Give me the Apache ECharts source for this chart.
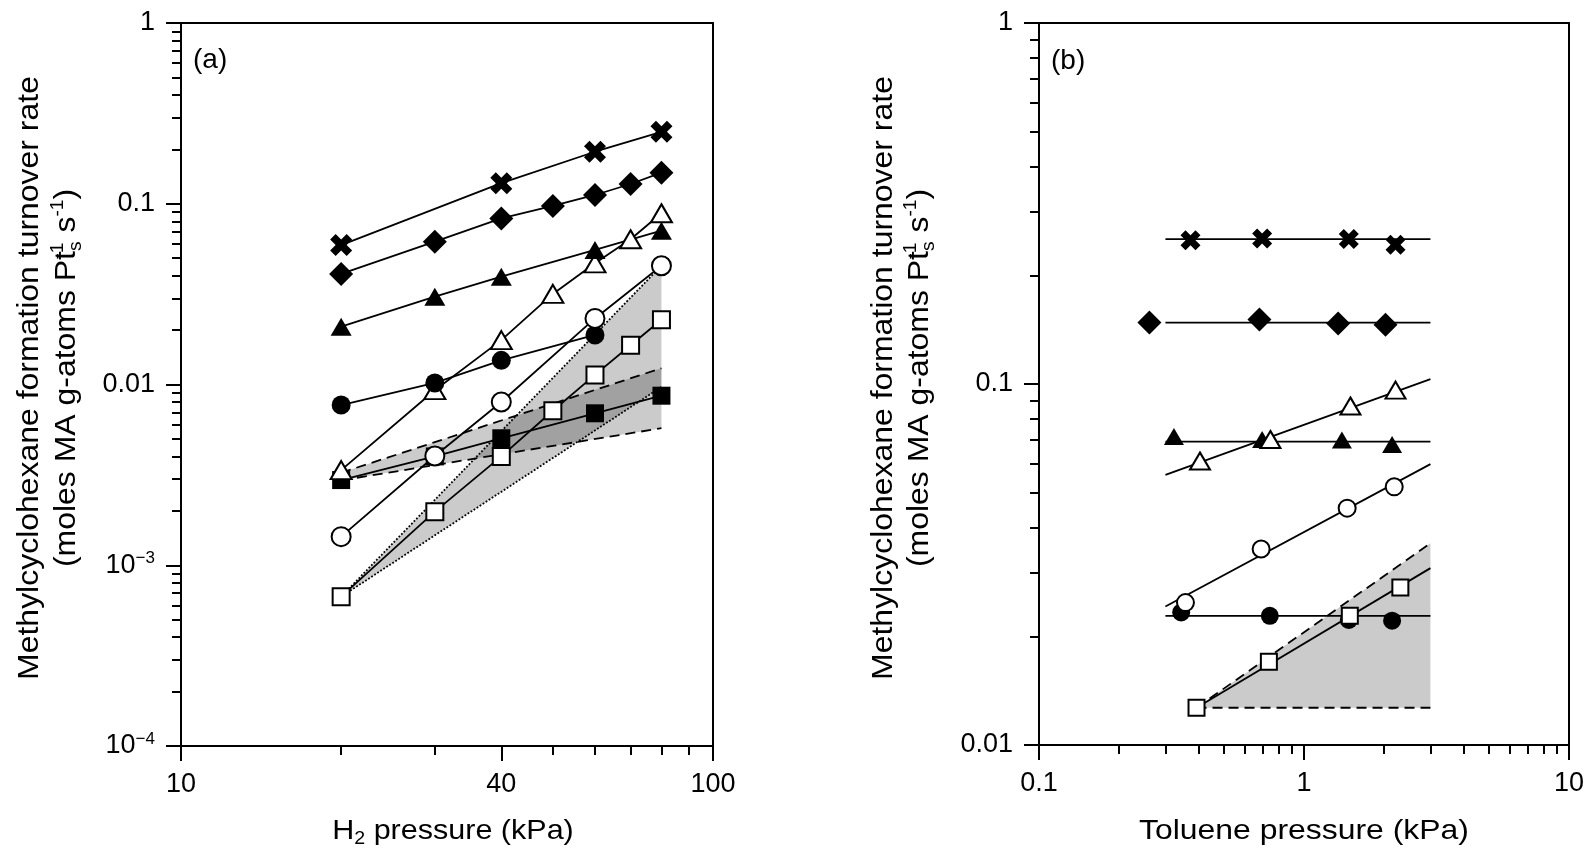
<!DOCTYPE html>
<html>
<head>
<meta charset="utf-8">
<script src="https://cdn.jsdelivr.net/npm/echarts@6.0.0/dist/echarts.min.js"></script>
<style>
  html, body { margin: 0; padding: 0; background: #ffffff; }
  #chart { width: 1589px; height: 849px; }
</style>
</head>
<body>
<div id="chart"></div>
<script>
// ---------- Panel (a): turnover rate vs H2 pressure (kPa) ----------
const aCross      = [[20, 0.0591], [40, 0.130], [60, 0.194], [80, 0.250]];
const aDiamond    = [[20, 0.0409], [30, 0.0617], [40, 0.083], [50, 0.0972], [60, 0.1118], [70, 0.1286], [80, 0.1485]];
const aTriFilled  = [[20, 0.0209], [30, 0.0306], [40, 0.0395], [60, 0.0555], [80, 0.0710]];
const aTriOpen    = [[20, 0.00336], [30, 0.0093], [40, 0.0176], [50, 0.0317], [60, 0.0468], [70, 0.0636], [80, 0.0886]];
const aCircFilled = [[20, 0.0077], [30, 0.0102], [40, 0.0136], [60, 0.0188]];
const aCircOpen   = [[20, 0.00144], [30, 0.00402], [40, 0.0080], [60, 0.0232], [80, 0.0454]];
const aSqFilled   = [[20, 0.00296], [30, 0.0040], [40, 0.00504], [60, 0.00693], [80, 0.00867]];
const aSqOpen     = [[20, 0.00067], [30, 0.00198], [40, 0.0040], [50, 0.00716], [60, 0.0113], [70, 0.0165], [80, 0.0228]];

// shaded ranges in panel (a)
const aDashBandX     = [20, 80];
const aDashBandUpper = [0.00325, 0.0123];
const aDashBandLower = [0.00295, 0.00573];
const aDotBandX      = [20, 80];
const aDotBandUpper  = [0.00067, 0.0454];
const aDotBandLower  = [0.00067, 0.0097];

// ---------- Panel (b): turnover rate vs toluene pressure (kPa) ----------
const bCross      = [[0.373, 0.250], [0.695, 0.253], [1.476, 0.252], [2.215, 0.243]];
const bDiamond    = [[0.261, 0.148], [0.679, 0.151], [1.345, 0.147], [2.03, 0.146]];
const bTriFilled  = [[0.323, 0.0716], [0.695, 0.0702], [1.39, 0.0700], [2.15, 0.0680]];
const bTriOpen    = [[0.405, 0.0612], [0.747, 0.0702], [1.497, 0.0869], [2.215, 0.0962]];
const bCircOpen   = [[0.357, 0.0248], [0.689, 0.0349], [1.455, 0.0453], [2.19, 0.0519]];
const bCircFilled = [[0.344, 0.0233], [0.743, 0.0228], [1.476, 0.0222], [2.15, 0.0221]];
const bSqOpen     = [[0.393, 0.01268], [0.737, 0.0170], [1.489, 0.0228], [2.31, 0.0273]];

// fitted lines in panel (b)
const bFitX          = [0.3, 3];
const bFitCross      = [0.252, 0.252];
const bFitDiamond    = [0.148, 0.148];
const bFitTriFilled  = [0.0692, 0.0692];
const bFitTriOpen    = [0.056, 0.1032];
const bFitCircOpen   = [0.0242, 0.060];
const bFitCircFilled = [0.0228, 0.0228];
const bFitSqX        = [0.393, 3];
const bFitSqOpen     = [0.01268, 0.0309];

// shaded range in panel (b)
const bBandX     = [0.393, 3];
const bBandUpper = [0.01268, 0.0362];
const bBandLower = [0.01268, 0.01268];

// ---------- axis ticks and labels ----------
const aXMajor  = [10, 40, 100];
const aXLabels = ['10', '40', '100'];
const aXMinor  = [20, 30, 50, 60, 70, 80, 90];
const aYMajor  = [1e-4, 1e-3, 1e-2, 1e-1, 1];
const aYLabels = ['10{sup|\u22124}', '10{sup|\u22123}', '0.01', '0.1', '1'];
const bXMajor  = [0.1, 1, 10];
const bXLabels = ['0.1', '1', '10'];
const bYMajor  = [0.01, 0.1, 1];
const bYLabels = ['0.01', '0.1', '1'];

// axis titles
const xTitleA = 'H{sb|2} pressure (kPa)';
const xTitleB = 'Toluene pressure (kPa)';
const yTitle1 = 'Methylcyclohexane formation turnover rate';
const yTitle2 = '(moles MA g-atoms Pt{sp0|-1}{sb|s} s{sp|-1})';

// 2..9 multiples of every decade between 10^lo and 10^hi
function minorSteps(lo, hi) {
  const out = [];
  for (let d = lo; d < hi; d++) {
    for (let k = 2; k <= 9; k++) out.push(+(k * Math.pow(10, d)).toPrecision(6));
  }
  return out;
}

const FONT = '"Liberation Sans", Arial, Helvetica, sans-serif';
const INK = '#000000';
const AXIS_W = 2;
const LINE_W = 1.8;

function labelFor(majors, labels) {
  return function (v) {
    for (let i = 0; i < majors.length; i++) {
      if (Math.abs(Math.log10(v) - Math.log10(majors[i])) < 1e-6) return labels[i];
    }
    return '';
  };
}

const supRich = { sup: { fontSize: 17, verticalAlign: 'top', lineHeight: 16, fontFamily: FONT, color: INK } };

function majorAxis(dim, grid, min, max, ticks, labels) {
  return {
    type: 'log', logBase: 10, gridIndex: grid, min: min, max: max,
    position: dim === 'x' ? 'bottom' : 'left',
    axisLine: { show: true, onZero: false, lineStyle: { color: INK, width: AXIS_W } },
    axisTick: { show: true, inside: false, length: 15, customValues: ticks, lineStyle: { color: INK, width: AXIS_W } },
    axisLabel: {
      show: true, customValues: ticks, formatter: labelFor(ticks, labels),
      fontSize: 27, fontFamily: FONT, color: INK, margin: dim === 'x' ? 24 : 26,
      lineHeight: 30, rich: supRich
    },
    splitLine: { show: false }, minorTick: { show: false }, minorSplitLine: { show: false }
  };
}

function minorAxis(dim, grid, min, max, ticks) {
  return {
    type: 'log', logBase: 10, gridIndex: grid, min: min, max: max,
    position: dim === 'x' ? 'bottom' : 'left',
    axisLine: { show: false, onZero: false },
    axisTick: { show: true, inside: false, length: 9, customValues: ticks, lineStyle: { color: INK, width: AXIS_W } },
    axisLabel: { show: false },
    splitLine: { show: false }
  };
}

// marker-only series
function markers(data, axis, symbol, size, filled, z) {
  return {
    type: 'scatter', xAxisIndex: axis, yAxisIndex: axis, data: data,
    symbol: symbol, symbolSize: size, z: z || 5, silent: true,
    itemStyle: filled
      ? { color: INK, borderWidth: 0, opacity: 1 }
      : { color: '#ffffff', borderColor: INK, borderWidth: 2, opacity: 1 },
    emphasis: { disabled: true }
  };
}

// plain connecting / fitted line
function pathLine(xs, ys, axis, type, z) {
  return {
    type: 'line', xAxisIndex: axis, yAxisIndex: axis,
    data: xs.map((x, i) => [x, ys[i]]),
    symbol: 'none', silent: true, z: z || 3,
    lineStyle: { color: INK, width: LINE_W, type: type || 'solid' },
    emphasis: { disabled: true }
  };
}
function polyLine(data, axis) {
  return pathLine(data.map(d => d[0]), data.map(d => d[1]), axis, 'solid', 4);
}
const DASH = [10, 6];

// translucent grey band between two curves
function band(xs, upper, lower, axis) {
  return {
    type: 'custom', xAxisIndex: axis, yAxisIndex: axis, silent: true, z: 1, clip: false,
    data: [[xs[0], upper[0]]],
    renderItem: function (params, api) {
      const pts = [];
      for (let i = 0; i < xs.length; i++) pts.push(api.coord([xs[i], upper[i]]));
      for (let i = xs.length - 1; i >= 0; i--) pts.push(api.coord([xs[i], lower[i]]));
      return { type: 'polygon', shape: { points: pts }, style: { fill: 'rgba(0,0,0,0.205)' } };
    }
  };
}

const CROSS = 'path://M2.5,0 L5,2.5 L7.5,0 L10,2.5 L7.5,5 L10,7.5 L7.5,10 L5,7.5 L2.5,10 L0,7.5 L2.5,5 L0,2.5 Z';

// text blocks for titles and panel tags
const titleRich = {
  sp0: { fontSize: 18, fontFamily: FONT, fill: INK, verticalAlign: 'top', width: 0 },
  sp:  { fontSize: 18, fontFamily: FONT, fill: INK, verticalAlign: 'top' },
  sb:  { fontSize: 18, fontFamily: FONT, fill: INK, verticalAlign: 'bottom' }
};
function textEl(str, x, y, size, opts) {
  opts = opts || {};
  return {
    type: 'text', x: x, y: y, silent: true,
    rotation: opts.rotation || 0, scaleX: opts.scaleX || 1, scaleY: opts.scaleY || 1,
    style: {
      text: str, fontSize: size, fontFamily: FONT, fill: INK,
      align: opts.align || 'center', verticalAlign: 'middle',
      lineHeight: size + 6, rich: titleRich
    }
  };
}
function yTitles(x1, x2) {
  return [
    textEl(yTitle1, x1, 378, 30, { rotation: Math.PI / 2, scaleX: 1.065 }),
    textEl(yTitle2, x2, 378, 30, { rotation: Math.PI / 2, scaleX: 1.065 })
  ];
}

const option = {
  animation: false,
  backgroundColor: '#ffffff',
  textStyle: { fontFamily: FONT, color: INK },
  grid: [
    { left: 181, top: 23, width: 532, height: 723, show: true, borderColor: INK, borderWidth: AXIS_W, backgroundColor: 'transparent', containLabel: false },
    { left: 1039, top: 23, width: 530, height: 722, show: true, borderColor: INK, borderWidth: AXIS_W, backgroundColor: 'transparent', containLabel: false }
  ],
  xAxis: [
    majorAxis('x', 0, 10, 100, aXMajor, aXLabels),
    minorAxis('x', 0, 10, 100, aXMinor),
    majorAxis('x', 1, 0.1, 10, bXMajor, bXLabels),
    minorAxis('x', 1, 0.1, 10, minorSteps(-1, 1))
  ],
  yAxis: [
    majorAxis('y', 0, 1e-4, 1, aYMajor, aYLabels),
    minorAxis('y', 0, 1e-4, 1, minorSteps(-4, 0)),
    majorAxis('y', 1, 0.01, 1, bYMajor, bYLabels),
    minorAxis('y', 1, 0.01, 1, minorSteps(-2, 0))
  ],
  graphic: [
    textEl('(a)', 193, 60, 28, { align: 'left' }),
    textEl('(b)', 1051, 61, 28, { align: 'left' }),
    textEl(xTitleA, 453, 831, 28, { scaleX: 1.09 }),
    textEl(xTitleB, 1304, 831, 28, { scaleX: 1.14 })
  ].concat(yTitles(30, 67), yTitles(884, 920)),
  series: [
    // panel (a) shaded ranges and their bounding lines
    band(aDotBandX, aDotBandUpper, aDotBandLower, 0),
    band(aDashBandX, aDashBandUpper, aDashBandLower, 0),
    pathLine(aDotBandX, aDotBandUpper, 0, 'dotted', 2),
    pathLine(aDotBandX, aDotBandLower, 0, 'dotted', 2),
    pathLine(aDashBandX, aDashBandUpper, 0, DASH, 2),
    pathLine(aDashBandX, aDashBandLower, 0, DASH, 2),
    // panel (a) data lines
    polyLine(aCross, 0), polyLine(aDiamond, 0), polyLine(aTriFilled, 0), polyLine(aTriOpen, 0),
    polyLine(aCircFilled, 0), polyLine(aCircOpen, 0), polyLine(aSqFilled, 0), polyLine(aSqOpen, 0),
    // panel (a) markers
    markers(aSqFilled, 0, 'rect', 18, true),
    markers(aTriOpen, 0, 'triangle', [21, 18], false),
    markers(aCircFilled, 0, 'circle', 19, true),
    markers(aCross, 0, CROSS, 22, true),
    markers(aDiamond, 0, 'diamond', 24, true),
    markers(aTriFilled, 0, 'triangle', [21, 18], true),
    markers(aCircOpen, 0, 'circle', 19, false),
    markers(aSqOpen, 0, 'rect', 17, false),

    // panel (b) shaded range
    band(bBandX, bBandUpper, bBandLower, 2),
    pathLine(bBandX, bBandUpper, 2, DASH, 2),
    pathLine(bBandX, bBandLower, 2, DASH, 2),
    // panel (b) fitted lines
    pathLine(bFitX, bFitCross, 2), pathLine(bFitX, bFitDiamond, 2), pathLine(bFitX, bFitTriFilled, 2),
    pathLine(bFitX, bFitTriOpen, 2), pathLine(bFitX, bFitCircOpen, 2), pathLine(bFitX, bFitCircFilled, 2),
    pathLine(bFitSqX, bFitSqOpen, 2),
    // panel (b) markers
    markers(bCircFilled, 2, 'circle', 18, true),
    markers(bCross, 2, CROSS, 20, true),
    markers(bDiamond, 2, 'diamond', 24, true),
    markers(bTriFilled, 2, 'triangle', [20, 17], true),
    markers(bTriOpen, 2, 'triangle', [20, 17], false),
    markers(bCircOpen, 2, 'circle', 17, false),
    markers(bSqOpen, 2, 'rect', 16, false)
  ]
};

const chart = echarts.init(document.getElementById('chart'), null, { renderer: 'canvas' });
chart.setOption(option);
</script>
</body>
</html>
